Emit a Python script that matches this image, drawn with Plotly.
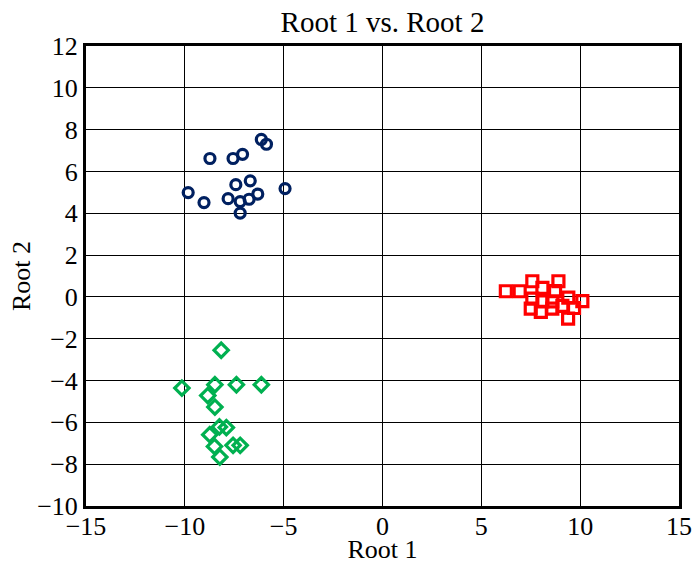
import plotly.graph_objects as go

blue_x = [-6.13, -5.87, -8.73, -7.56, -7.08, -9.83, -9.03, -7.42, -6.69, -7.81, -7.20, -6.75, -6.31, -7.20, -4.93]
blue_y = [7.53, 7.30, 6.62, 6.62, 6.82, 4.99, 4.51, 5.37, 5.55, 4.70, 4.56, 4.67, 4.92, 4.01, 5.18]

green_x = [-8.16, -10.15, -8.48, -7.39, -6.13, -8.84, -8.48, -8.25, -7.90, -8.74, -8.50, -7.56, -7.20, -8.23]
green_y = [-2.55, -4.36, -4.20, -4.20, -4.20, -4.72, -5.27, -6.22, -6.25, -6.59, -7.15, -7.10, -7.10, -7.66]

red_x = [6.24, 6.94, 7.58, 8.09, 8.90, 8.73, 7.58, 8.09, 8.59, 9.40, 10.11, 7.50, 8.01, 8.59, 9.10, 9.69, 9.39]
red_y = [0.27, 0.27, 0.75, 0.43, 0.75, 0.28, -0.08, -0.21, -0.21, -0.03, -0.20, -0.56, -0.72, -0.56, -0.43, -0.53, -1.04]

x_ticks = [-15, -10, -5, 0, 5, 10, 15]
y_ticks = [-10, -8, -6, -4, -2, 0, 2, 4, 6, 8, 10, 12]

fig = go.Figure()
fig.add_trace(go.Scatter(x=blue_x, y=blue_y, mode="markers",
                         marker=dict(symbol="circle-open", size=10, color="#002060", line=dict(width=3.2, color="#002060"))))
fig.add_trace(go.Scatter(x=green_x, y=green_y, mode="markers",
                         marker=dict(symbol="diamond-open", size=11, color="#00b050", line=dict(width=3.2, color="#00b050"))))
fig.add_trace(go.Scatter(x=red_x, y=red_y, mode="markers",
                         marker=dict(symbol="square-open", size=11, color="#ff0000", line=dict(width=3.2, color="#ff0000"))))

font = dict(family="Liberation Serif", size=26, color="black")
fig.update_layout(
    width=693, height=564,
    margin=dict(l=86, r=14, t=46, b=58, autoexpand=False),
    paper_bgcolor="white", plot_bgcolor="white",
    showlegend=False,
    font=font,
    title=dict(text="Root 1 vs. Root 2", x=0.5, xref="paper", xanchor="center", y=0.962, yanchor="middle",
               font=dict(family="Liberation Serif", size=29, color="black")),
    xaxis=dict(range=[-15, 15], tickvals=x_ticks, showgrid=True, gridcolor="black", gridwidth=1,
               showline=True, linecolor="black", linewidth=3, mirror=True, zeroline=False,
               ticks="", tickfont=font, automargin=False, ticklabelstandoff=-5,
               title=dict(text="Root 1", font=font, standoff=0)),
    yaxis=dict(range=[-10, 12], tickvals=y_ticks, showgrid=True, gridcolor="black", gridwidth=1,
               showline=True, linecolor="black", linewidth=3, mirror=True, zeroline=False,
               ticks="", tickfont=font, automargin=False, ticklabelstandoff=0,
               title=dict(text="Root 2", font=font, standoff=0)),
)
fig.write_html("out.html", config={"displayModeBar": False},
               post_script="document.body.style.margin='0';")
